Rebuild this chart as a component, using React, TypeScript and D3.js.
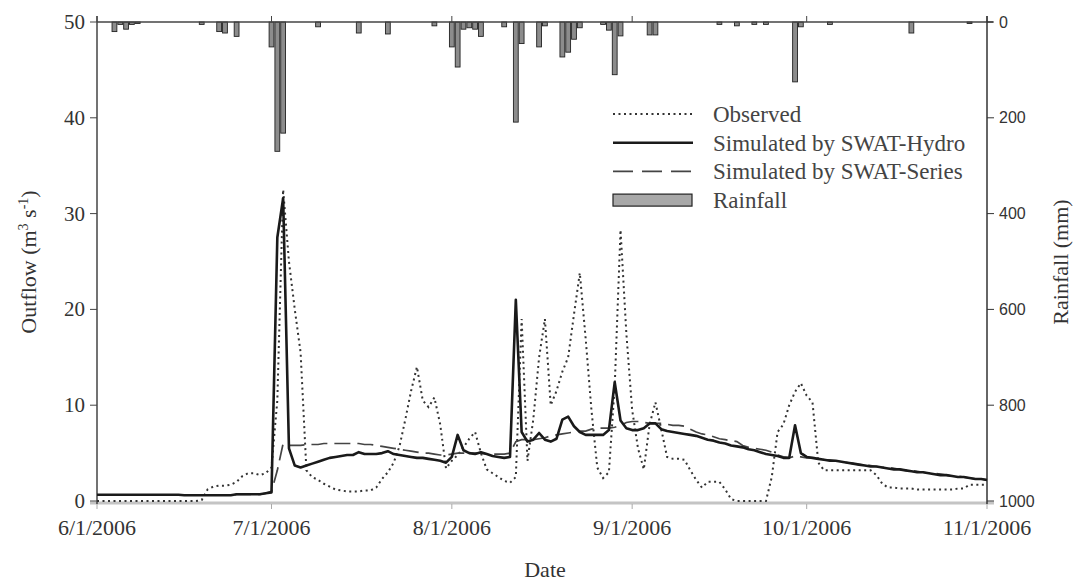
import React from "react";
import * as d3 from "d3";

const W = 1077;
const H = 583;
const plot = { left: 97, right: 987, top: 22, bottom: 501 };

// daily series from 6/1/2006 to 11/1/2006
const startDay = "2006-06-01";

const observed = [
  0, 0, 0, 0, 0, 0, 0, 0, 0, 0, 0, 0, 0, 0, 0, 0, 0, 0,
  0.1, 1.2, 1.5, 1.6, 1.6, 1.7, 2.0, 2.6, 2.9, 2.9, 2.7, 2.9,
  3.5, 10.5, 32.5, 25, 20, 15.5, 3.2, 2.5, 2.2, 1.8, 1.5, 1.2,
  1.1, 1.0, 1.0, 1.0, 1.1, 1.1, 1.4, 2.3, 3.0, 4.0, 5.7, 8.5,
  11.5, 14.0, 10.5, 9.8, 10.8, 8.0, 3.4, 4.2, 4.8, 5.6, 6.5, 7.2,
  5.0, 3.3, 2.9, 2.5, 2.1, 1.9, 2.5, 19.0, 4.2, 8.5, 15.0, 19.0,
  10.0, 11.5, 13.5, 15.0, 19.5, 23.8, 17.0, 9.5, 3.5, 2.4, 3.0, 12.0,
  28.3, 17.5, 9.5, 5.5, 3.3, 8.0, 10.3, 7.5, 4.6, 4.4, 4.4, 4.3,
  3.2, 2.2, 1.4, 2.0, 2.0, 2.0, 1.2, 0.2, 0, 0, 0, 0, 0, 0,
  2.5, 7.2, 8.0, 10.0, 11.4, 12.3, 11.0, 10.3, 4.0,
  3.2, 3.2, 3.2, 3.2, 3.2, 3.2, 3.2, 3.2, 3.2, 2.7, 1.8,
  1.4, 1.4, 1.3, 1.3, 1.3, 1.2, 1.2, 1.2, 1.2, 1.2, 1.2, 1.2, 1.3, 1.3,
  1.7, 1.7, 1.7, 1.7,
];

const swatHydro = [
  0.65, 0.65, 0.65, 0.65, 0.65, 0.65, 0.65, 0.65, 0.65, 0.65, 0.65, 0.65, 0.65, 0.65, 0.65,
  0.6, 0.6, 0.6, 0.6, 0.6, 0.6, 0.6, 0.6, 0.6,
  0.7, 0.7, 0.7, 0.7, 0.7, 0.8, 0.9,
  27.5, 31.6, 5.5, 3.7, 3.5, 3.7, 3.9, 4.1, 4.3, 4.5, 4.6, 4.7,
  4.8, 4.8, 5.1, 4.9, 4.9, 4.9, 5.0, 5.2, 4.9, 4.8, 4.7, 4.6,
  4.5, 4.5, 4.4, 4.3, 4.2, 4.0, 4.6, 6.9, 5.3, 5.0, 4.9, 5.1,
  4.9, 4.7, 4.6, 4.5, 4.6, 21.0, 7.2, 6.2, 6.4, 7.1, 6.4, 6.2,
  6.5, 8.5, 8.8, 7.8, 7.2, 6.9, 6.9, 6.9, 6.9, 7.4, 12.4, 8.4,
  7.6, 7.4, 7.4, 7.6, 8.1, 8.1, 7.5, 7.3, 7.2, 7.1, 7.0, 6.9,
  6.8, 6.6, 6.4, 6.3, 6.1, 6.0, 5.8, 5.7, 5.6, 5.4, 5.3, 5.1,
  4.9, 4.8, 4.7, 4.5, 4.5, 7.9, 5.0, 4.6, 4.5, 4.4, 4.3, 4.2,
  4.2, 4.1, 4.0, 3.9, 3.8, 3.7, 3.6, 3.6, 3.5, 3.4, 3.3, 3.3,
  3.2, 3.1, 3.0, 3.0, 2.9, 2.8, 2.7, 2.7, 2.6, 2.5, 2.5, 2.4,
  2.3, 2.3, 2.2,
];

const swatSeries = [
  0.65, 0.65, 0.65, 0.65, 0.65, 0.65, 0.65, 0.65, 0.65, 0.65, 0.65, 0.65, 0.65, 0.65, 0.65,
  0.6, 0.6, 0.6, 0.6, 0.6, 0.6, 0.6, 0.6, 0.6,
  0.7, 0.7, 0.7, 0.7, 0.7, 0.8, 1.0, 3.2, 6.0,
  5.8, 5.8, 5.8, 5.9, 5.9, 5.9, 6.0, 6.0, 6.0, 6.0, 6.0, 6.0,
  6.0, 5.9, 5.9, 5.8, 5.7, 5.6,
  5.5, 5.4, 5.3, 5.2, 5.1, 5.0, 5.0, 4.9, 4.8, 4.8,
  4.9, 5.0, 5.0, 5.0, 5.0, 5.0, 4.9, 4.9, 4.9, 4.9, 5.0,
  6.2, 6.4, 6.4, 6.4, 6.5, 6.6,
  6.8, 6.9, 7.0, 7.1, 7.2, 7.3, 7.3,
  7.5, 7.6, 7.6, 7.6, 7.7, 7.9,
  8.2, 8.3, 8.3, 8.2, 8.1, 8.1, 8.1,
  8.0, 7.9, 7.9, 7.8, 7.5, 7.2, 7.0, 6.9,
  6.7, 6.5, 6.4, 6.3, 6.2, 5.8, 5.6,
  5.5, 5.4, 5.3, 5.1, 4.8, 4.6, 4.5,
  4.7, 4.6, 4.5, 4.5, 4.4, 4.3, 4.3, 4.2, 4.1, 4.0, 3.9, 3.8,
  3.8, 3.7, 3.6, 3.5, 3.5, 3.4, 3.3, 3.2, 3.2, 3.1, 3.0, 2.9,
  2.9, 2.8, 2.7, 2.6, 2.6, 2.5, 2.4, 2.3, 2.3, 2.2,
];

// daily rainfall (mm), only the rainy days
const rainDays = [
  "6/4", "6/5", "6/6", "6/7", "6/8", "6/19", "6/22", "6/23", "6/25",
  "7/1", "7/2", "7/3", "7/9", "7/16", "7/21", "7/29",
  "8/1", "8/2", "8/3", "8/4", "8/5", "8/6", "8/10", "8/12", "8/13", "8/16", "8/17",
  "8/20", "8/21", "8/22", "8/23", "8/27", "8/28", "8/29", "8/30",
  "9/4", "9/5", "9/16", "9/19", "9/22", "9/24", "9/29", "9/30",
  "10/5", "10/19", "10/29",
];
const rainMm = [
  20, 5, 15, 5, 3, 5, 20, 23, 30,
  52, 270, 232, 10, 23, 25, 8,
  52, 94, 15, 12, 15, 30, 10, 209, 45, 52, 8,
  73, 63, 36, 12, 5, 17, 110, 29,
  27, 27, 5, 8, 5, 5, 125, 10,
  5, 23, 3,
];

const flowTicks = [0, 10, 20, 30, 40, 50];
const rainTicks = [0, 200, 400, 600, 800, 1000];
const monthTicks = ["6/1", "7/1", "8/1", "9/1", "10/1", "11/1"];

const legendItems = [
  { key: "obs", label: "Observed" },
  { key: "hydro", label: "Simulated by SWAT-Hydro" },
  { key: "series", label: "Simulated by SWAT-Series" },
  { key: "rain", label: "Rainfall" },
];

const serif = "'Liberation Serif', 'Times New Roman', serif";
const sans = "'Liberation Sans', Arial, sans-serif";

const parseDay = (s: string) => d3.utcParse("%m/%d/%Y")(s + "/2006") as Date;
const fmt = d3.utcFormat("%-m/%-d/%Y");

export default function App() {
  const start = d3.utcParse("%Y-%m-%d")(startDay) as Date;
  const x = d3
    .scaleUtc()
    .domain([parseDay("6/1"), parseDay("11/1")])
    .range([plot.left, plot.right]);
  const y = d3.scaleLinear().domain([0, 50]).range([plot.bottom, plot.top]);
  const yR = d3.scaleLinear().domain([0, 1000]).range([plot.top, plot.bottom]);

  const day = (i: number) => d3.utcDay.offset(start, i);
  const line = d3
    .line<number>()
    .x((_, i) => x(day(i)))
    .y((v) => y(v));

  const barW = x(day(1)) - x(day(0)) - 1;

  return (
    <svg
      width={W}
      height={H}
      style={{ position: "absolute", left: 0, top: 0, background: "#fff" }}
    >
      {/* rainfall bars hanging from the top */}
      <g>
        {rainDays.map((d, i) => (
          <rect
            key={d}
            x={x(parseDay(d)) - barW / 2}
            y={plot.top}
            width={barW}
            height={yR(rainMm[i]) - plot.top}
            fill="#8c8c8c"
            stroke="#222"
            strokeWidth={0.9}
          />
        ))}
      </g>

      {/* axes frame */}
      <line x1={90} x2={994} y1={503} y2={503} stroke="#c4c4c4" strokeWidth={3} />
      {monthTicks.map((m) => (
        <line key={"bt" + m} x1={x(parseDay(m))} x2={x(parseDay(m))} y1={504} y2={509} stroke="#aaa" />
      ))}
      <line x1={plot.left} x2={993} y1={plot.top} y2={plot.top} stroke="#444" strokeWidth={1.5} />
      {monthTicks.map((m) => (
        <line key={"tt" + m} x1={x(parseDay(m))} x2={x(parseDay(m))} y1={plot.top} y2={plot.top - 6} stroke="#444" />
      ))}
      <line x1={plot.left} x2={plot.left} y1={plot.top - 6} y2={504} stroke="#444" strokeWidth={1.5} />
      <line x1={plot.right} x2={plot.right} y1={plot.top - 6} y2={504} stroke="#333" strokeWidth={1.5} />

      {flowTicks.map((t) => (
        <g key={"l" + t}>
          <line x1={plot.left - 7} x2={plot.left} y1={y(t)} y2={y(t)} stroke="#444" />
          <text
            x={plot.left - 12}
            y={y(t)}
            dy="0.33em"
            textAnchor="end"
            fontFamily={serif}
            fontSize={21}
            fill="#333"
          >
            {t}
          </text>
        </g>
      ))}
      {rainTicks.map((t) => (
        <g key={"r" + t}>
          <line x1={plot.right} x2={plot.right + 7} y1={yR(t)} y2={yR(t)} stroke="#333" />
          <text
            x={plot.right + 12}
            y={yR(t)}
            dy="0.35em"
            fontFamily={sans}
            fontSize={16}
            fill="#333"
          >
            {t}
          </text>
        </g>
      ))}
      {monthTicks.map((m) => (
        <text
          key={"xl" + m}
          x={x(parseDay(m))}
          y={535}
          textAnchor="middle"
          fontFamily={serif}
          fontSize={22}
          fill="#333"
        >
          {fmt(parseDay(m))}
        </text>
      ))}

      {/* axis titles */}
      <text x={545} y={577} textAnchor="middle" fontFamily={serif} fontSize={22} fill="#333">
        Date
      </text>
      <text
        transform="translate(36,262) rotate(-90)"
        textAnchor="middle"
        fontFamily={serif}
        fontSize={22}
        fill="#333"
      >
        Outflow (m
        <tspan dy={-8} fontSize={14}>3</tspan>
        <tspan dy={8}> s</tspan>
        <tspan dy={-8} fontSize={14}>-1</tspan>
        <tspan dy={8}>)</tspan>
      </text>
      <text
        transform="translate(1068,262) rotate(-90)"
        textAnchor="middle"
        fontFamily={serif}
        fontSize={22}
        fill="#333"
      >
        Rainfall (mm)
      </text>

      {/* flow lines */}
      <path d={line(observed) ?? ""} fill="none" stroke="#333" strokeWidth={2} strokeDasharray="2 3.5" />
      <path d={line(swatSeries) ?? ""} fill="none" stroke="#444" strokeWidth={1.7} strokeDasharray="16 7" />
      <path d={line(swatHydro) ?? ""} fill="none" stroke="#1a1a1a" strokeWidth={2.6} strokeLinejoin="round" />

      {/* legend */}
      <g>
        {legendItems.map((it, i) => {
          const ly = 114 + i * 28.7;
          return (
            <g key={it.key}>
              {it.key === "obs" && (
                <line x1={613} x2={693} y1={ly} y2={ly} stroke="#333" strokeWidth={2} strokeDasharray="2 3.5" />
              )}
              {it.key === "hydro" && (
                <line x1={613} x2={693} y1={ly} y2={ly} stroke="#1a1a1a" strokeWidth={2.4} />
              )}
              {it.key === "series" && (
                <line x1={613} x2={693} y1={ly} y2={ly} stroke="#444" strokeWidth={1.7} strokeDasharray="20 9" />
              )}
              {it.key === "rain" && (
                <rect x={613} y={ly - 6} width={79} height={12} fill="#a8a8a8" stroke="#222" strokeWidth={1.2} />
              )}
              <text x={713} y={ly} dy="0.35em" fontFamily={serif} fontSize={23} fill="#444">
                {it.label}
              </text>
            </g>
          );
        })}
      </g>
    </svg>
  );
}
